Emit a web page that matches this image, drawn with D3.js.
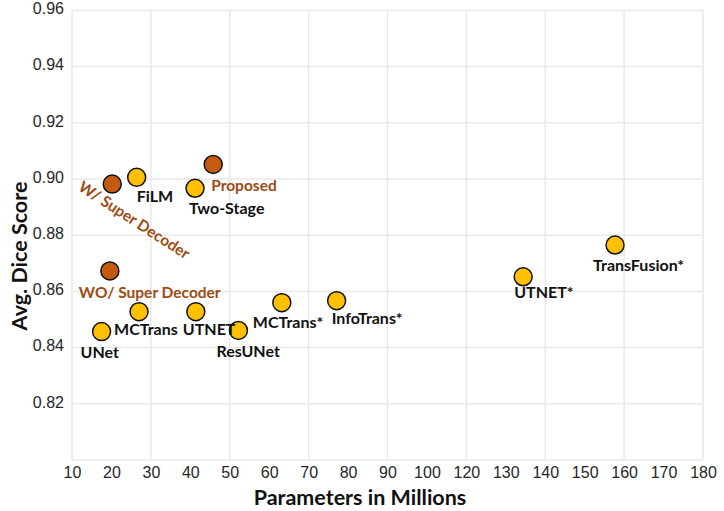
<!DOCTYPE html>
<html lang="en">
<head>
  <meta charset="UTF-8" />
  <title>Dice vs Parameters</title>
  <style>
    html, body { margin: 0; padding: 0; background: #fff; }
    svg { display: block; font-family: Lato, "Open Sans", sans-serif; }
    .grid line { stroke: #e9e9e9; stroke-width: 1.5px; }
    .tick text { fill: #262626; font-size: 16px; }
    .pt { stroke: #111; stroke-width: 1.5px; }
    .lbl { font-size: 16px; font-weight: bold; fill: #111; }
    .ours { font-size: 15.5px; font-weight: bold; fill: #9e4a14; }
    .title { font-size: 21.5px; font-weight: bold; fill: #111; }
  </style>
  <script src="https://d3js.org/d3.v7.min.js"></script>
</head>
<body>
<svg id="chart" width="724" height="511"></svg>
<script>
  // baselines
  const models = ["UNet", "MCTrans", "UTNET", "ResUNet", "MCTrans*", "InfoTrans*", "UTNET*", "TransFusion*", "FiLM", "Two-Stage"];
  const modelParams = [17.5, 27.0, 41.4, 52.2, 63.2, 77.1, 124.4, 147.7, 26.4, 41.2];
  const modelDice = [0.8457, 0.8528, 0.8528, 0.8461, 0.8560, 0.8567, 0.8652, 0.8765, 0.9006, 0.8967];

  // ours
  const ours = ["WO/ Super Decoder", "W/ Super Decoder", "Proposed"];
  const oursParams = [19.6, 20.2, 45.8];
  const oursDice = [0.8673, 0.8982, 0.9052];

  // axis ticks (the printed labels skip 110)
  const xTicks = d3.range(10, 171, 10);
  const xTickLabels = ["10", "20", "30", "40", "50", "60", "70", "80", "90", "100", "120", "130", "140", "150", "160", "170", "180"];
  const yTicks = [0.82, 0.84, 0.86, 0.88, 0.90, 0.92, 0.94, 0.96];

  // label offsets from the marker centre [dx, dy]
  const labelOffset = {
    "UNet": [-21, 21], "MCTrans": [-25, 18], "UTNET": [-13, 18], "ResUNet": [-22, 21],
    "MCTrans*": [-29, 20], "InfoTrans*": [-5, 18], "UTNET*": [-9, 16], "TransFusion*": [-22, 20],
    "FiLM": [0, 19], "Two-Stage": [-6, 20],
    "WO/ Super Decoder": [-31, 22], "Proposed": [-2, 21]
  };

  const svg = d3.select("#chart");
  const x = d3.scaleLinear().domain([10, 170]).range([72, 703]);
  const y = d3.scaleLinear().domain([0.80, 0.96]).range([460, 10.4]);

  // grid
  const grid = svg.append("g").attr("class", "grid");
  grid.selectAll(".gx").data(d3.range(10, 171, 20)).join("line")
    .attr("x1", d => x(d)).attr("x2", d => x(d))
    .attr("y1", y(0.96)).attr("y2", y(0.80));
  grid.selectAll(".gy").data(d3.range(0, 9).map(i => 0.80 + i * 0.02)).join("line")
    .attr("x1", x(10)).attr("x2", x(170))
    .attr("y1", d => y(d)).attr("y2", d => y(d));

  // axes
  const xAxis = svg.append("g").attr("transform", `translate(0,${y(0.80)})`)
    .call(d3.axisBottom(x).tickValues(xTicks).tickSize(0).tickPadding(7)
      .tickFormat((d, i) => xTickLabels[i]));
  xAxis.select(".domain").remove();
  xAxis.selectAll(".tick text").attr("font-family", null).attr("font-size", null);

  const yAxis = svg.append("g").attr("transform", `translate(${x(10)},0)`)
    .call(d3.axisLeft(y).tickValues(yTicks).tickSize(0).tickPadding(8).tickFormat(d3.format(".2f")));
  yAxis.select(".domain").remove();
  yAxis.selectAll(".tick text").attr("font-family", null).attr("font-size", null).attr("dy", "0.2em");

  // titles
  svg.append("text").attr("class", "title").attr("text-anchor", "middle")
    .attr("x", 360).attr("y", 505).text("Parameters in Millions");
  svg.append("text").attr("class", "title").attr("text-anchor", "middle")
    .attr("transform", "translate(27,256) rotate(-90)").text("Avg. Dice Score");

  // baseline points
  const base = models.map((m, i) => ({ name: m, p: modelParams[i], d: modelDice[i] }));
  svg.selectAll(".base").data(base).join("circle")
    .attr("class", "pt").attr("r", 9)
    .attr("cx", d => x(d.p)).attr("cy", d => y(d.d))
    .attr("fill", "#ffc000");
  svg.selectAll(".blbl").data(base).join("text")
    .attr("class", "lbl")
    .attr("x", d => x(d.p) + labelOffset[d.name][0])
    .attr("y", d => y(d.d) + labelOffset[d.name][1])
    .attr("dy", "0.35em")
    .text(d => d.name);

  // our points
  const mine = ours.map((m, i) => ({ name: m, p: oursParams[i], d: oursDice[i] }));
  svg.selectAll(".mine").data(mine).join("circle")
    .attr("class", "pt").attr("r", 9)
    .attr("cx", d => x(d.p)).attr("cy", d => y(d.d))
    .attr("fill", "#c55a11");
  svg.selectAll(".mlbl").data(mine).join("text")
    .attr("class", "ours")
    .attr("text-anchor", d => labelOffset[d.name] ? "start" : "middle")
    .attr("transform", d => {
      if (labelOffset[d.name]) {
        return `translate(${x(d.p) + labelOffset[d.name][0]},${y(d.d) + labelOffset[d.name][1]})`;
      }
      // rotated annotation
      return `translate(${x(d.p) + 22},${y(d.d) + 36}) rotate(33)`;
    })
    .attr("dy", "0.35em")
    .text(d => d.name);
</script>
</body>
</html>
